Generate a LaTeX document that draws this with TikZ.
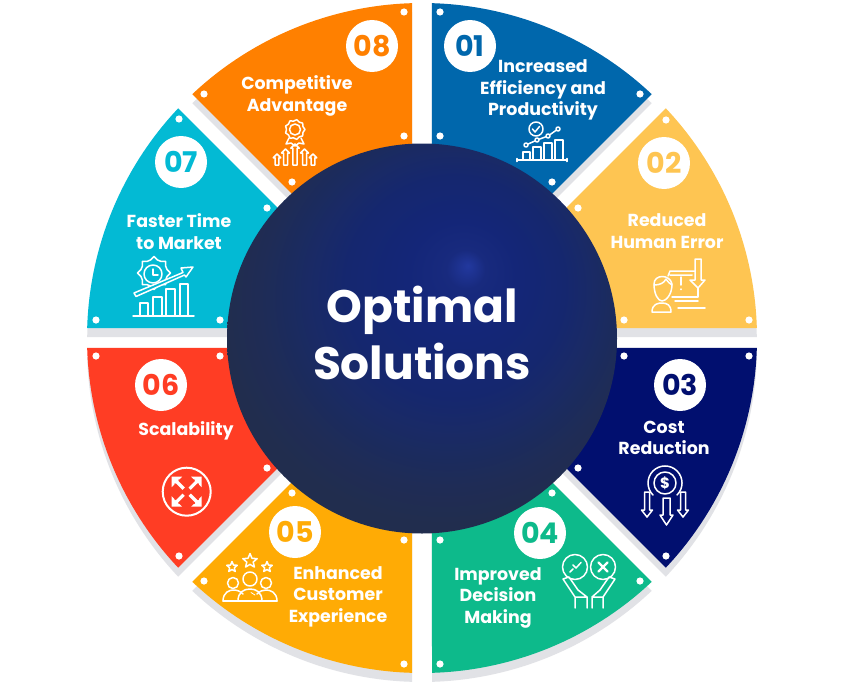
\documentclass[tikz,border=0pt]{standalone}
\usepackage{fontspec}
\setmainfont{Poppins}
\definecolor{cA}{HTML}{0067AC}
\definecolor{cB}{HTML}{FEC552}
\definecolor{cC}{HTML}{010F6F}
\definecolor{cD}{HTML}{0DBA8B}
\definecolor{cE}{HTML}{FFAB05}
\definecolor{cF}{HTML}{FF3D24}
\definecolor{cG}{HTML}{03BAD4}
\definecolor{cH}{HTML}{FF8000}
\definecolor{shadowgrey}{HTML}{E1E2E6}
\pgfdeclareradialshading{ballshade}{\pgfpoint{5.9bp}{9.35bp}}{%
 rgb(0bp)=(0.133,0.220,0.620);
 rgb(2.5bp)=(0.094,0.165,0.494);
 rgb(7bp)=(0.078,0.149,0.471);
 rgb(14bp)=(0.082,0.153,0.435);
 rgb(18bp)=(0.100,0.165,0.400);
 rgb(21bp)=(0.106,0.169,0.365);
 rgb(24bp)=(0.122,0.173,0.335);
 rgb(28bp)=(0.129,0.176,0.305);
 rgb(50bp)=(0.129,0.176,0.305)}
\tikzset{
 label text/.style={text=white,font=\bfseries\fontsize{17.4}{21.5}\selectfont,align=center,inner sep=0pt},
 num disc/.style={circle,fill=white,minimum size=52pt,inner sep=0pt,font=\bfseries\fontsize{28.5}{28.5}\selectfont},
 title text/.style={text=white,font=\bfseries\fontsize{45.5}{57}\selectfont,align=center,inner sep=0pt},
 icon/.style={draw=white,line width=1.5pt,line join=round,line cap=round},
}
\newcommand{\wedgepath}[1]{({422+26.1*cos(#1+22.5)},{338+26.1*sin(#1+22.5)}) -- plot[domain=#1+1.71:#1+43.29,samples=40] ({422+335*cos(\x)},{338+335*sin(\x)}) -- cycle}
\newcommand{\uparr}[4]{% x, top, bottom, half width of shaft
 \draw[icon] (#1-#4,#3) -- (#1-#4,#2+#4+2) -- (#1-#4-2,#2+#4+2) -- (#1,#2) -- (#1+#4+2,#2+#4+2) -- (#1+#4,#2+#4+2) -- (#1+#4,#3) -- cycle;}
\newcommand{\downarr}[5]{% x, top, head y, tip y, half shaft
 \draw[icon] (#1-#5,#2) -- (#1-#5,#3) -- (#1-#5-3,#3) -- (#1,#4) -- (#1+#5+3,#3) -- (#1+#5,#3) -- (#1+#5,#2) -- cycle;}
\newcommand{\starshape}[3]{% x,y,r
 \draw[icon] plot[samples at={0,36,...,324}] ({#1+(#3)*(mod(round(\x/36),2)==0?1:0.45)*sin(\x)},{#2-(#3)*(mod(round(\x/36),2)==0?1:0.45)*cos(\x)}) -- cycle;}
\begin{document}
\begin{tikzpicture}[x=1pt,y=-1pt]
\useasboundingbox (0,0) rectangle (845,685);
\fill[white] (0,0) rectangle (845,685);
% shadows
\foreach \a in {-90,-45,0,45,90,135,180,225}
 \fill[shadowgrey,shift={(0,9)}] \wedgepath{\a};
% sectors
\foreach \a/\c in {-90/cA,-45/cB,0/cC,45/cD,90/cE,135/cF,180/cG,225/cH}
 \fill[\c] \wedgepath{\a};
% dots
\foreach \p in {(440,12),(640,94),(440,136),(552,182),
 (666,120),(578,208),(624,320),(749,320),
 (624,356),(749,356),(578,468),(666,556),
 (552,493),(440,540),(640,581),(440,664),
 (292,493),(404,540),(204,581),(404,664),
 (96,356),(220,356),(267,468),(179,556),
 (179,119),(267,208),(96,320),(220,320),
 (404,12),(204,94),(404,136),(292,182)}
 \fill[white] \p circle (3.6);
% central ball
\shade[shading=ballshade] (422,338.5) circle (195);
\node[title text] (title) at (422,333) {Optimal\\Solutions};
% number discs
\node[num disc,text=cA] (n1) at (470,46) {01};
\node[num disc,text=cB] (n2) at (664,163) {02};
\node[num disc,text=cC] (n3) at (680,385) {03};
\node[num disc,text=cD] (n4) at (540,533) {04};
\node[num disc,text=cE] (n5) at (295,532) {05};
\node[num disc,text=cF] (n6) at (161,385) {06};
\node[num disc,text=cG] (n7) at (181,162) {07};
\node[num disc,text=cH] (n8) at (372,46) {08};
% labels
\node[label text] (t1) at (543,90) {Increased\\Efficiency and\\Productivity};
\node[label text] (t2) at (667,231) {Reduced\\Human Error};
\node[label text] (t3) at (664,438) {Cost\\Reduction};
\node[label text] (t4) at (498,597.5) {Improved\\Decision\\Making};
\node[label text] (t5) at (338,596.5) {Enhanced\\Customer\\Experience};
\node[label text] (t6) at (186,431) {Scalability};
\node[label text] (t7) at (179,231.5) {Faster Time\\to Market};
\node[label text] (t8) at (297,96) {Competitive\\Advantage};
% icon 01
\draw[icon] (517,160) -- (567,160) (517,158.5) -- (517,161.5) (567,158.5) -- (567,161.5);
\draw[icon] (523,160) |- (530,152) -- (530,160);
\draw[icon] (533,160) |- (541,147) -- (541,160);
\draw[icon] (544,160) |- (552,143) -- (552,160);
\draw[icon] (555,160) |- (563,140) -- (563,160);
\draw[icon] (526,145) -- (537,140) -- (548,136) -- (558,129);
\foreach \p in {(526,145),(537,140),(548,136),(558,129)} \filldraw[icon,fill=cA] \p circle (2);
\draw[icon] (536,129) circle (7);
\draw[icon] (532.5,129) -- (535,132) -- (539.5,126.5);
% icon 02
\draw[icon] (695,259) -- (701,259) -- (701,280) -- (705,280) -- (698,288) -- (690,280) -- (695,280) -- cycle;
\draw[icon] (668,276) -- (670,271) -- (695,271) (670,275) -- (692,275);
\draw[icon] (672,297) -- (698,297) -- (698,288) (675,301) -- (698,301);
\draw[icon] (681,277) -- (681,285) (681,289) -- (681,289.5);
\draw[icon] (678,308) -- (705,308);
\draw[icon] (654,284) .. controls (654,274) and (670,274) .. (672,284) .. controls (672,296) and (665,301) .. (662,301) .. controls (658,301) and (654,294) .. (654,284) -- cycle;
\draw[icon] (654,285) .. controls (660,285) and (664,283) .. (666,279) .. controls (668,282) and (670,284) .. (672,285);
\draw[icon] (652,312) .. controls (652,304) and (658,303) .. (662,303) .. controls (667,303) and (671,305) .. (671,312) -- cycle;
% icon 03
\draw[icon] (653,495) arc (135:405:17);
\draw[icon] (665,483) circle (11);
\node[text=white,font=\bfseries\fontsize{15}{15}\selectfont,inner sep=0pt] (dollar) at (665,483) {\$};
\downarr{647}{492}{510}{517}{2.5}
\downarr{666.5}{498}{515}{525}{3.5}
\downarr{683}{492}{510}{517}{2.5}
% icon 04
\draw[icon] (575,567) circle (12.5);
\draw[icon] (603,567) circle (12.5);
\draw[icon] (570,572) -- (573,569) (573,565) -- (576,568) -- (581,562.5);
\draw[icon,line width=2.2pt] (598.5,562.5) -- (607.5,571.5) (607.5,562.5) -- (598.5,571.5);
\draw[icon] (575,608) -- (575,597) -- (563,579) -- (569,577) -- (578,590) -- (587,597) -- (587,608) (575,597) -- (587,597);
\draw[icon] (603,608) -- (603,597) -- (615,579) -- (609,577) -- (600,590) -- (592,597) -- (592,608) (603,597) -- (592,597);
% icon 05
\starshape{250}{561}{7.5}
\starshape{232}{567}{5.5}
\starshape{267}{567}{5.5}
\draw[icon] (250,579) circle (7);
\draw[icon] (233,583) circle (5.5);
\draw[icon] (266,583) circle (5.5);
\draw[icon] (223,601) -- (277,601);
\draw[icon] (223,601) .. controls (223,592) and (230,590) .. (233,590) .. controls (237,590) and (240,591) .. (243,594);
\draw[icon] (277,601) .. controls (277,592) and (270,590) .. (266,590) .. controls (263,590) and (260,591) .. (257,594);
\draw[icon] (238,601) .. controls (238,592) and (244,589) .. (250,589) .. controls (256,589) and (262,592) .. (262,601);
\draw[icon,line width=.8pt] (251,592.5) -- (255,595);
% icon 06
\draw[icon,line width=2pt] (186.7,491.7) circle (24);
\foreach \sx/\sy in {1/1,1/-1,-1/1,-1/-1}{
 \draw[white,line width=3.2pt] (186.7+\sx*3,491.7+\sy*3) -- (186.7+\sx*11,491.7+\sy*11);
 \fill[white] (186.7+\sx*15,491.7+\sy*15) -- (186.7+\sx*15,491.7+\sy*4.5) -- (186.7+\sx*4.5,491.7+\sy*15) -- cycle;
 \fill[cF] (186.7+\sx*8.5,491.7+\sy*12.2) -- (186.7+\sx*6.4,491.7+\sy*12.2) -- (186.7+\sx*6.4,491.7+\sy*10.1) -- cycle;
 \fill[cF] (186.7+\sx*12.2,491.7+\sy*8.5) -- (186.7+\sx*12.2,491.7+\sy*6.4) -- (186.7+\sx*10.1,491.7+\sy*6.4) -- cycle;
}
% icon 07
\draw[icon] (133,316) -- (194,316);
\draw[icon] (140,316) |- (148,303) -- (148,316);
\draw[icon] (153,316) |- (162,297) -- (162,316);
\draw[icon] (166,316) |- (175,289) -- (175,316);
\draw[icon] (180,316) |- (188,284) -- (188,316);
\draw[icon] plot[samples at={0,15,...,345}] ({154+(mod(round(\x/15),3)==0?16.5:13.5)*cos(\x)},{273+(mod(round(\x/15),3)==0?16.5:13.5)*sin(\x)}) -- cycle;
\filldraw[icon,fill=cG] (153,274) circle (9);
\draw[icon] (153,269) -- (153,275) -- (158,275);
\filldraw[icon,fill=cG] (134,293) -- (183,272.5) -- (181,268) -- (193,267) -- (186,277) -- (184.5,275) -- (136,296.5) -- cycle;
% icon 08
\draw[icon] plot[samples at={0,20,...,340}] ({295+(mod(round(\x/20),2)==0?10:8.5)*cos(\x)},{129.5+(mod(round(\x/20),2)==0?10:8.5)*sin(\x)}) -- cycle;
\draw[icon] (295,129.5) circle (5.5);
\draw[icon] (289,138) -- (286,144) -- (291,143) -- (295,146) -- (299,143) -- (304,144) -- (301,138);
\uparr{295}{144}{165}{2.2}
\uparr{285.5}{149}{165}{2}
\uparr{304.5}{149}{165}{2}
\uparr{277}{154}{165}{1.8}
\uparr{313}{154}{165}{1.8}
\end{tikzpicture}
\end{document}
